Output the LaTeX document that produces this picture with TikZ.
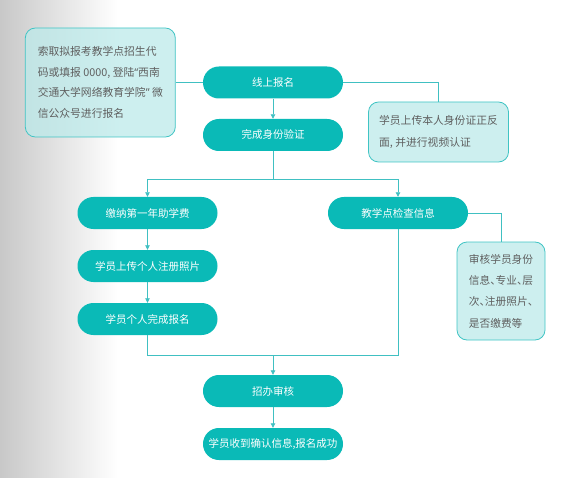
\documentclass[tikz,border=0pt]{standalone}
\usepackage{fontspec}
\setmainfont{Noto Sans CJK SC}
\newfontfamily\latinq{Noto Sans}
\newfontfamily\cjkhalt[RawFeature=+halt]{Noto Sans CJK SC}
\usetikzlibrary{arrows.meta}
\definecolor{teal1}{RGB}{10,186,183}
\definecolor{lineC}{RGB}{64,192,194}
\definecolor{infoF}{RGB}{188,234,234}
\definecolor{infoD}{RGB}{64,196,196}
\definecolor{infoT}{RGB}{95,95,95}
\begin{document}
\begin{tikzpicture}[x=1pt,y=-1pt,
  pill/.style={fill=teal1, draw=none, rounded corners=15.9pt, minimum width=140pt, minimum height=32pt, inner sep=0pt, text=white, font=\fontsize{10.5}{12}\selectfont},
  info/.style={fill=infoF, fill opacity=0.75, text opacity=1, draw=infoD, line width=0.8pt, rounded corners=10pt, inner sep=0pt, text=infoT, align=left},
  conn/.style={draw=lineC, line width=0.8pt},
  arr/.style={conn, -{Triangle[width=4.5pt,length=4.5pt]}}]
\useasboundingbox (0,0) rectangle (569,478);
\shade[left color={rgb,255:red,200;green,200;blue,200}, right color=white] (0,0) rectangle (118,478);

\node[info, minimum width=150pt, minimum height=109pt, font=\fontsize{10.8}{20.6}\selectfont] (L) at (100.3,82.5)
  {索取拟报考教学点招生代\\码或填报 0000, 登陆{\latinq “}西南\\交通大学网络教育学院{\latinq ”} 微\\信公众号进行报名};
\node[pill] (a) at (273,82.5) {线上报名};
\node[pill] (b) at (273,135) {完成身份验证};
\node[info, minimum width=140pt, minimum height=60pt, font=\fontsize{10.8}{21.5}\selectfont] (R1) at (438.5,132)
  {学员上传本人身份证正反\\面, 并进行视频认证};
\node[pill] (c) at (147.5,213) {缴纳第一年助学费};
\node[pill] (d) at (398,213) {教学点检查信息};
\node[info, minimum width=88pt, minimum height=98pt, font=\cjkhalt\fontsize{10.7}{21.4}\selectfont] (R2) at (501,291)
  {审核学员身份\\信息、专业、层\\次、注册照片、\\是否缴费等};
\node[pill] (e) at (147.5,266) {学员上传个人注册照片};
\node[pill] (f) at (147.5,319) {学员个人完成报名};
\node[pill] (g) at (273,391) {招办审核};
\node[pill] (h) at (273,444) {学员收到确认信息,报名成功};

\coordinate (j1) at (273,179);
\coordinate (j2) at (273,355);

\draw[conn] (L.east) -- (a.west);
\draw[conn] (a.east) -| (R1.north);
\draw[arr] (a.south) -- (b.north);
\draw[conn] (b.south) -- (j1);
\draw[arr] (j1) -| (c.north);
\draw[arr] (j1) -| (d.north);
\draw[conn] (d.east) -| (R2.north);
\draw[arr] (c.south) -- (e.north);
\draw[arr] (e.south) -- (f.north);
\draw[conn] (f.south) |- (j2);
\draw[conn] (d.south) |- (j2);
\draw[arr] (j2) -- (g.north);
\draw[arr] (g.south) -- (h.north);
\end{tikzpicture}
\end{document}
